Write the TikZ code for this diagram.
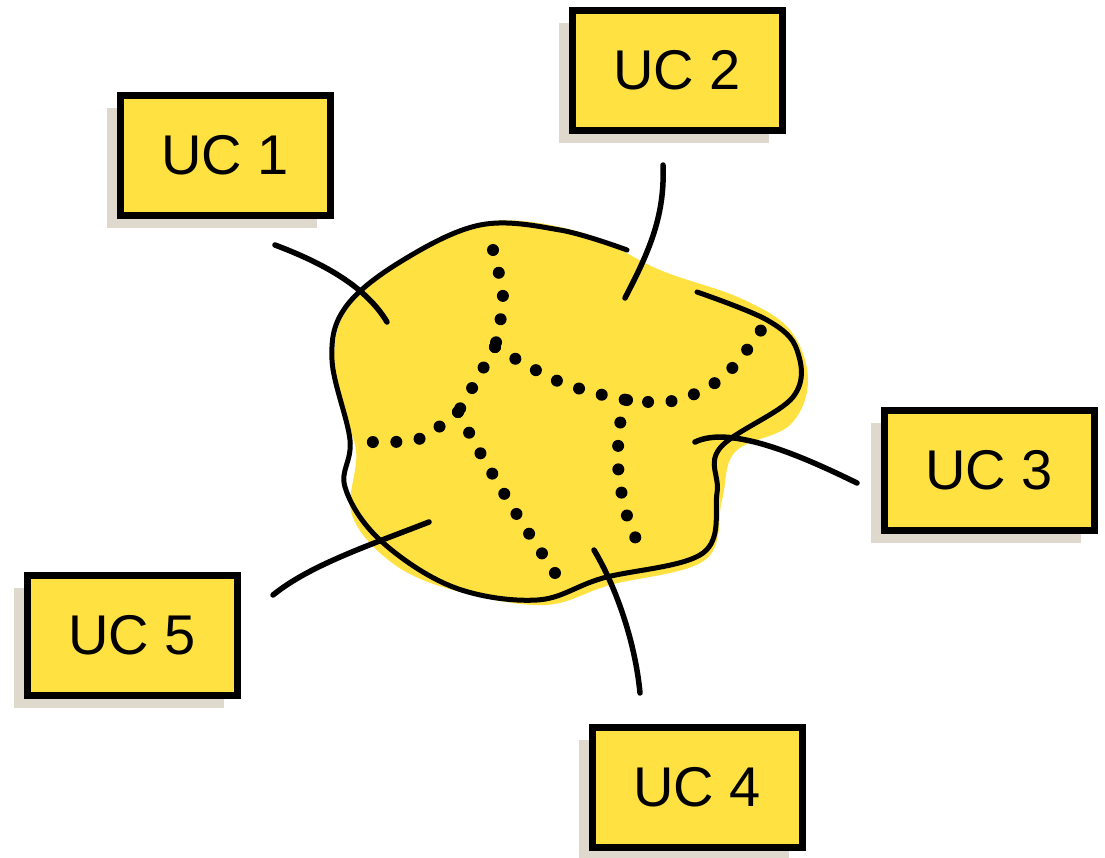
\documentclass[tikz,border=0pt]{standalone}
\usepackage{fontspec}
\setsansfont{Liberation Sans}
\usepackage{xcolor}
\usepackage{tikz}
\usetikzlibrary{shadows}

\definecolor{ucyellow}{RGB}{255,225,66}
\definecolor{ucshadow}{RGB}{222,217,204}

\tikzset{
  ucbox/.style={draw=black,fill=ucyellow,line width=7pt,
    minimum width=210pt,minimum height=120pt,inner sep=0pt,
    font=\sffamily\fontsize{56}{56}\selectfont,
    drop shadow={shadow xshift=-13pt,shadow yshift=-13pt,
      fill=ucshadow,opacity=1}},
  link/.style={line width=5.5pt,line cap=round},
  border/.style={line width=12pt,line cap=round,
    dash pattern=on 0pt off 23.5pt}
}

\begin{document}
\begin{tikzpicture}[x=1pt,y=-1pt]
  \useasboundingbox (0,0) rectangle (1105,857);

  % the blob
  \fill[ucyellow] plot[smooth cycle,tension=0.6] coordinates {
    (485,222) (580,232) (660,270) (740,298) (790,330) (808,380)
    (790,425) (735,452) (722,500) (705,560) (610,585) (545,605)
    (460,592) (395,565) (352,515) (356,450) (336,390) (342,318)
    (400,262)};
  \draw[line width=5pt,line cap=round] plot[smooth,tension=0.6] coordinates {
    (627,250) (560,230) (480,225) (400,262) (345,308) (332,360)
    (350,440) (345,487) (380,540) (453,587) (537,600) (603,578)
    (703,553) (717,493) (720,448) (793,397) (797,350) (767,320)
    (697,292)};

  % dotted borders
  \draw[border] plot[smooth] coordinates {(493,250) (503,298) (495,347)};
  \draw[border] plot[smooth] coordinates {(495,347) (560,382) (627,400)
    (678,400) (722,378) (753,342) (767,320)};
  \draw[border] plot[smooth] coordinates {(495,347) (471,390) (458,412)};
  \draw[border] plot[smooth] coordinates {(458,412) (419,439) (371,442)};
  \draw[border] plot[smooth] coordinates {(458,412) (482,456) (519,518)
    (559,579)};
  \draw[border] plot[smooth] coordinates {(627,400) (619,430) (619,478)
    (630,526) (642,548)};

  % use case boxes
  \node[ucbox] (uc1) at (225,155) {UC 1};
  \node[ucbox] (uc2) at (677,70) {UC 2};
  \node[ucbox] (uc3) at (989,470) {UC 3};
  \node[ucbox] (uc4) at (697,787) {UC 4};
  \node[ucbox] (uc5) at (132,635) {UC 5};

  % line ends
  \coordinate (a1) at (275,245);  \coordinate (b1) at (387,322);
  \coordinate (a2) at (663,165);  \coordinate (b2) at (625,298);
  \coordinate (a3) at (857,483);  \coordinate (b3) at (695,442);
  \coordinate (a4) at (640,693);  \coordinate (b4) at (594,550);
  \coordinate (a5) at (273,595);  \coordinate (b5) at (429,522);

  \draw[link] (a1) .. controls (320,262) and (365,285) .. (b1);
  \draw[link] (a2) .. controls (665,215) and (650,250) .. (b2);
  \draw[link] (a3) .. controls (800,455) and (730,425) .. (b3);
  \draw[link] (a4) .. controls (635,640) and (615,585) .. (b4);
  \draw[link] (a5) .. controls (310,565) and (370,545) .. (b5);
\end{tikzpicture}
\end{document}
